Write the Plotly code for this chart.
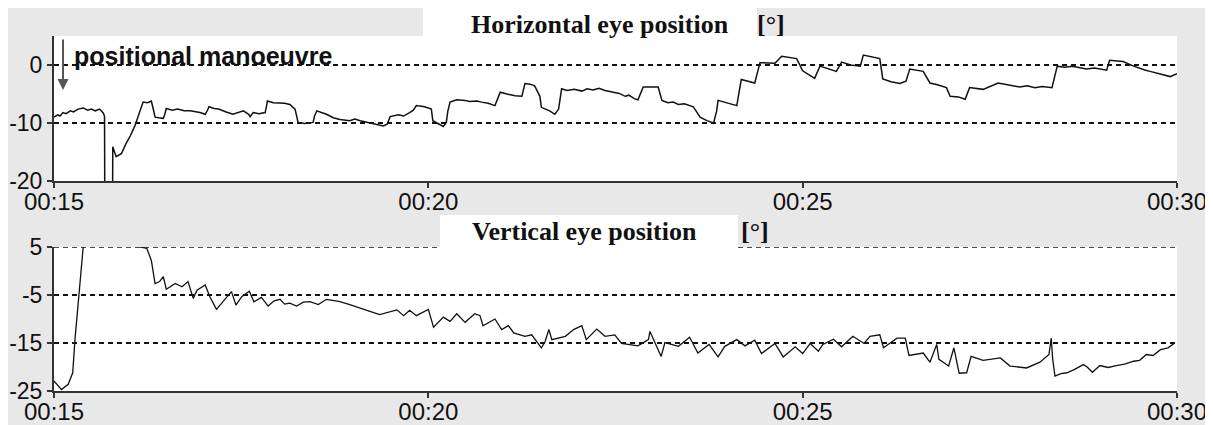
import plotly.graph_objects as go

# ---------------- data ----------------
tick_minutes = [15, 20, 25, 30]
tick_labels = ["00:15", "00:20", "00:25", "00:30"]

# horizontal eye position (time in minutes, position in degrees)
h_time = [15.00, 15.05, 15.08, 15.12, 15.16, 15.22, 15.26, 15.32, 15.39, 15.45, 15.50, 15.55, 15.61, 15.66, 15.675,
          15.68, 15.78, 15.785, 15.83, 15.90, 15.96, 16.02, 16.08, 16.13, 16.19,
          16.25, 16.30, 16.33, 16.35, 16.40, 16.46, 16.48, 16.50, 16.58, 16.65, 16.74, 16.82,
          16.95, 17.02, 17.05, 17.07, 17.14, 17.20, 17.30, 17.39, 17.53, 17.60, 17.62, 17.66,
          17.74, 17.82, 17.84, 17.85, 17.93, 18.00, 18.08, 18.15, 18.22, 18.26, 18.35, 18.46, 18.48,
          18.51, 18.58, 18.64, 18.73, 18.82, 18.95, 19.02, 19.09, 19.17, 19.25, 19.33, 19.40, 19.45, 19.49, 19.60,
          19.67, 19.75, 19.80, 19.84, 19.95, 20.04, 20.06, 20.20, 20.24, 20.26, 20.29,
          20.38, 20.49, 20.55, 20.65, 20.71, 20.80, 20.89, 20.93, 20.96, 21.05, 21.16, 21.25, 21.29, 21.36, 21.42, 21.49,
          21.51, 21.62, 21.69, 21.74, 21.78, 21.85, 21.95, 22.05, 22.12, 22.20, 22.28, 22.36, 22.45, 22.55, 22.63, 22.68, 22.75, 22.80,
          22.87, 23.07, 23.12, 23.20, 23.27, 23.34, 23.42, 23.54, 23.63, 23.72, 23.81, 23.85, 23.87,
          24.00, 24.12, 24.18, 24.36, 24.43, 24.63, 24.72, 24.92, 25.00, 25.16,
          25.23, 25.45, 25.52, 25.64, 25.77, 25.81, 26.03, 26.07, 26.18, 26.30, 26.38, 26.43,
          26.61, 26.70, 26.80, 26.92, 26.97, 27.08, 27.17, 27.23, 27.41, 27.61, 27.70, 27.80, 27.90, 28.00, 28.10, 28.20, 28.33,
          28.40, 28.50, 28.60, 28.70, 28.79, 28.90, 29.06, 29.10, 29.28, 29.42, 29.50, 29.58, 29.64, 29.72, 29.80, 29.91, 30.00]
h_deg = [-9.0, -8.6, -8.8, -8.2, -8.4, -7.9, -8.1, -7.6, -7.4, -7.8, -7.6, -7.9, -7.6, -8.3, -8.9,
         -30.0, -30.0, -14.1, -15.8, -15.3, -13.6, -12.2, -10.5, -8.5, -6.4,
         -6.5, -6.2, -7.8, -9.0, -9.1, -9.2, -8.5, -7.5, -7.8, -7.6, -7.9, -7.9,
         -8.2, -8.5, -7.8, -7.2, -7.5, -7.6, -8.1, -8.5, -7.9, -8.5, -8.9, -8.2,
         -8.4, -8.2, -7.0, -6.2, -6.5, -6.5, -6.6, -6.8, -7.6, -9.9, -10.1, -9.9, -8.8,
         -7.9, -8.2, -8.5, -9.1, -9.4, -9.6, -9.3, -9.6, -9.8, -10.0, -10.2, -10.5, -10.2, -8.9, -8.6,
         -8.8, -8.2, -7.8, -7.0, -7.2, -7.6, -9.6, -10.6, -9.9, -8.0, -6.4,
         -6.0, -6.1, -6.3, -6.2, -6.4, -6.6, -7.0, -5.6, -4.7, -5.0, -5.3, -5.4, -3.2, -3.3, -3.6, -5.4,
         -7.3, -7.9, -8.5, -7.6, -4.1, -4.4, -4.2, -4.5, -4.1, -4.3, -4.0, -4.4, -4.6, -4.9, -5.4, -5.2, -5.8, -6.0,
         -3.8, -3.8, -6.1, -6.5, -6.4, -6.8, -6.7, -7.2, -9.0, -9.6, -10.0, -8.0, -6.1,
         -6.5, -7.0, -2.5, -3.1, 0.4, 0.3, 1.5, 1.1, -1.0, -2.3,
         -0.2, -1.1, 0.5, 0.0, -0.2, 1.7, 1.1, -2.4, -2.9, -3.2, -2.8, -0.7,
         -1.1, -3.1, -3.4, -3.9, -5.4, -5.5, -5.9, -3.9, -4.2, -3.1, -3.3, -3.6, -3.8, -3.6, -3.9, -3.7, -3.9,
         -0.2, -0.4, -0.2, -0.5, -0.7, -0.5, -0.9, 0.8, 0.6, -0.2, -0.6, -0.9, -1.1, -1.4, -1.6, -2.0, -1.5]

# vertical eye position (time in minutes, position in degrees)
v_time = [15.00, 15.10, 15.19, 15.25, 15.28, 15.32, 15.37, 15.39, 15.41, 16.13,
          16.15, 16.24, 16.30, 16.35, 16.41, 16.46, 16.50, 16.62, 16.71, 16.79,
          16.86, 16.91, 17.02, 17.08, 17.17, 17.28, 17.37, 17.43, 17.51, 17.61,
          17.67, 17.77, 17.86, 17.94, 18.02, 18.08, 18.15, 18.24, 18.33, 18.42, 18.53, 18.64, 18.82, 18.95, 19.09,
          19.22, 19.35, 19.58, 19.67, 19.75, 19.84, 20.00, 20.07, 20.20, 20.29, 20.38,
          20.49, 20.62, 20.69, 20.73, 20.89, 20.98, 21.07, 21.14, 21.29, 21.38,
          21.51, 21.56, 21.61, 21.65, 21.83, 21.94, 22.05, 22.11, 22.25, 22.36,
          22.49, 22.58, 22.80, 22.94, 22.96, 23.03, 23.11, 23.16, 23.34, 23.49,
          23.60, 23.75, 23.87, 23.96, 24.12, 24.23, 24.36, 24.45, 24.63, 24.74,
          24.90, 25.00, 25.10, 25.21, 25.27, 25.41, 25.52, 25.67, 25.82, 25.90,
          26.03, 26.08, 26.26, 26.37, 26.42, 26.61, 26.70, 26.79, 26.82, 26.95,
          27.02, 27.09, 27.19, 27.25, 27.41, 27.64, 27.77, 27.99, 28.17, 28.29,
          28.32, 28.34,
          28.37, 28.45, 28.53, 28.62, 28.75, 28.80, 28.87, 28.97, 29.08, 29.19, 29.30, 29.42, 29.50, 29.59, 29.68, 29.78, 29.88, 29.97]
v_deg = [-22.9, -24.7, -23.6, -21.2, -14.3, -7.4, 0.9, 5.0, 10.0, 10.0,
         5.0, 4.7, 2.2, -2.6, -2.2, -1.2, -3.8, -2.6, -3.3, -2.2,
         -5.7, -4.0, -2.9, -5.3, -8.0, -6.0, -4.3, -7.1, -5.3, -4.2,
         -6.4, -5.5, -7.3, -6.2, -5.9, -6.9, -6.7, -7.3, -6.5, -6.4, -7.0, -5.9, -6.4, -7.0, -7.8,
         -8.4, -9.1, -8.1, -9.3, -8.2, -9.3, -8.0, -11.7, -9.6, -10.5, -8.9,
         -10.7, -8.9, -9.3, -11.4, -10.0, -12.2, -11.4, -12.9, -13.6, -13.3,
         -16.0, -14.7, -12.2, -14.3, -13.6, -12.2, -11.4, -14.3, -12.1, -13.6,
         -13.3, -15.1, -15.6, -14.3, -12.6, -15.0, -17.8, -14.9, -15.7, -13.8,
         -17.1, -15.3, -17.9, -15.7, -14.3, -15.6, -14.4, -17.2, -15.1, -17.9,
         -15.8, -17.2, -15.1, -16.7, -15.3, -14.2, -15.8, -13.6, -15.1, -13.6,
         -13.3, -16.0, -14.0, -14.0, -17.6, -17.1, -19.0, -15.3, -18.4, -19.8,
         -16.0, -21.3, -21.2, -17.8, -18.6, -18.1, -19.8, -20.2, -19.0, -17.4,
         -14.0, -18.4,
         -21.9, -21.4, -21.2, -20.6, -19.5, -20.0, -21.1, -19.7, -20.1, -19.7, -19.4, -18.8, -18.6, -17.4, -17.6, -16.4, -16.0, -15.0]

h_ticks = [-20, -10, 0]
h_tick_text = ["-20", "-10", "0"]
v_ticks = [-25, -15, -5, 5]
v_tick_text = ["-25", "-15", "-5", "5"]

# ---------------- layout geometry (page pixels) ----------------
OFF = 8                      # page body margin around the figure div
W, H = 1213 - OFF, 417
L, R, T, B = 54, 1177, 36, 391   # plot area in page pixels


def pxx(px):
    return (px - L) / (R - L)


def pyy(py):
    return (B - py) / (B - T)


GRAY = "#e8e8e8"
AXC = "#333333"
SANS = "Liberation Sans, Arial, sans-serif"
SERIF = "Liberation Serif, Times New Roman, serif"
DASH = "5px,4px"

fig = go.Figure()
fig.add_trace(go.Scatter(x=h_time, y=h_deg, mode="lines",
                         line=dict(color="#111111", width=1.5),
                         xaxis="x", yaxis="y", showlegend=False))
fig.add_trace(go.Scatter(x=v_time, y=v_deg, mode="lines",
                         line=dict(color="#111111", width=1.3),
                         xaxis="x2", yaxis="y2", showlegend=False))

xcommon = dict(range=[15, 30], tickvals=tick_minutes, ticktext=tick_labels,
               showline=True, linecolor=AXC, linewidth=2, ticks="outside",
               ticklen=5, tickwidth=1.5, tickcolor=AXC, showgrid=False,
               zeroline=False, automargin=False, ticklabelstandoff=-7,
               tickfont=dict(family=SANS, size=24, color="#111"))
ycommon = dict(showline=True, linecolor=AXC, linewidth=2, ticks="outside",
               ticklen=5, tickwidth=1.5, tickcolor=AXC, showgrid=True,
               gridcolor="#111111", gridwidth=1.5, griddash=DASH,
               zeroline=False, automargin=False,
               tickfont=dict(family=SANS, size=23, color="#111"))

fig.update_layout(
    width=W, height=H,
    margin=dict(l=L - OFF, r=(OFF + W) - R, t=T - OFF, b=(OFF + H) - B, pad=0),
    paper_bgcolor=GRAY, plot_bgcolor="white",
    xaxis=dict(domain=[0, 1], anchor="y", **xcommon),
    yaxis=dict(domain=[pyy(181), 1], anchor="x", range=[-20, 5],
               tickvals=h_ticks, ticktext=h_tick_text, **ycommon),
    xaxis2=dict(domain=[0, 1], anchor="y2", **xcommon),
    yaxis2=dict(domain=[0, pyy(247)], anchor="x2", range=[-25, 5],
                tickvals=v_ticks, ticktext=v_tick_text, **ycommon),
)

# dashed reference line on the top edge of the lower panel
fig.add_shape(type="line", xref="x2", yref="y2", x0=15, x1=30,
              y0=v_ticks[-1], y1=v_ticks[-1],
              line=dict(color="#111111", width=1.5, dash=DASH), layer="below")

white_boxes = [
    (423, 757, 0, 36.5, "below"),     # horizontal title box
    (440, 738, 215, 248.5, "above"),  # vertical title box
]
for x0, x1, y0, y1, layer in white_boxes:
    fig.add_shape(type="rect", xref="paper", yref="paper",
                  x0=pxx(x0), x1=pxx(x1), y0=pyy(y1), y1=pyy(y0),
                  fillcolor="white", line=dict(width=0), layer=layer)

titles = [
    ("Horizontal eye position", 600, 24),
    ("[°]", 771, 24),
    ("Vertical eye position", 584, 232),
    ("[°]", 755, 232),
]
for txt, cx, cy in titles:
    fig.add_annotation(text=txt, xref="paper", yref="paper", x=pxx(cx), y=pyy(cy),
                       xanchor="center", yanchor="middle", showarrow=False,
                       font=dict(family=SERIF, size=26, color="#111", weight="bold"))

fig.add_annotation(text="positional manoeuvre", xref="paper", yref="paper",
                   x=pxx(72), y=pyy(56), xanchor="left", yanchor="middle",
                   showarrow=False,
                   font=dict(family=SANS, size=25, color="#111", weight="bold"))
fig.add_annotation(text="", xref="paper", yref="paper", x=pxx(63), y=pyy(90),
                   axref="pixel", ayref="pixel", ax=0, ay=-52, showarrow=True,
                   arrowhead=2, arrowsize=1.1, arrowwidth=2, arrowcolor="#555",
                   standoff=0)

fig.write_html("out.html")
